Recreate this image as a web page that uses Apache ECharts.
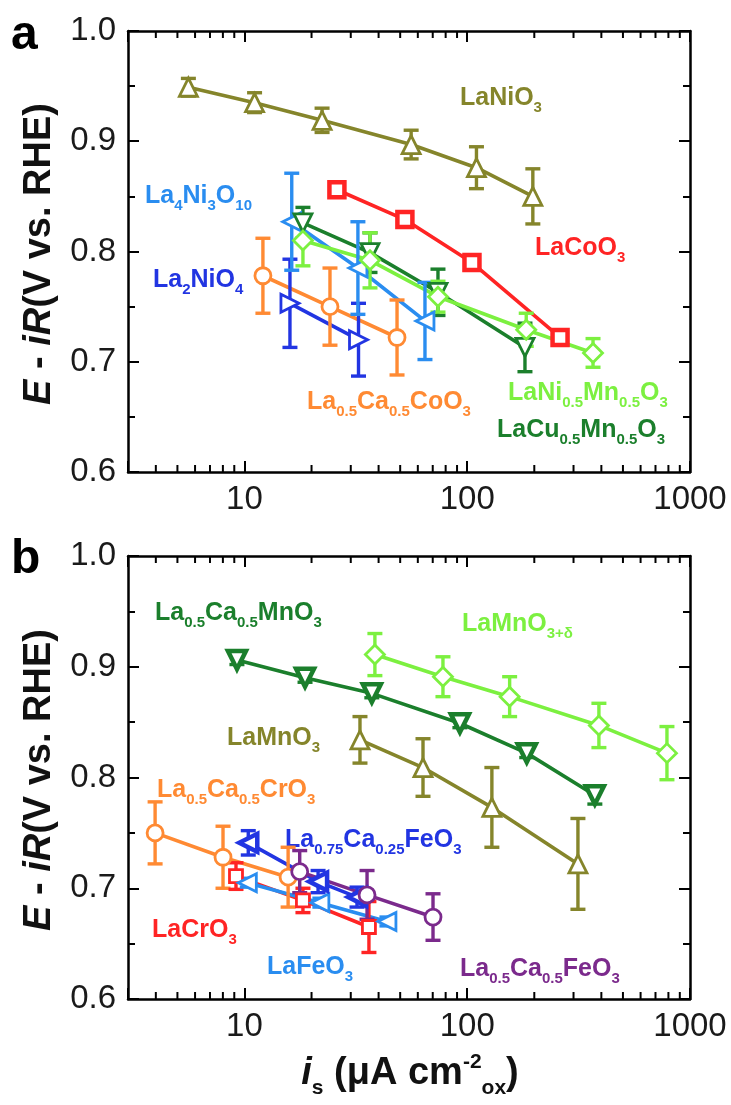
<!DOCTYPE html>
<html>
<head>
<meta charset="utf-8">
<script src="https://cdn.jsdelivr.net/npm/echarts@6/dist/echarts.min.js"></script>
<style>
html,body{margin:0;padding:0;background:#fff;}
#chart{width:731px;height:1105px;}
</style>
</head>
<body>
<div id="chart"></div>
<script>
// ---------------- DATA ----------------
// tick labels
const xTickValues = [10, 100, 1000];
const xTickLabels = ['10', '100', '1000'];
const xMinorTicks = [4, 5, 6, 7, 8, 9, 20, 30, 40, 50, 60, 70, 80, 90, 200, 300, 400, 500, 600, 700, 800, 900];
const yTickLabels = ['0.6', '0.7', '0.8', '0.9', '1.0'];

// Panel a
const a_LaNiO3_x = [5.6, 11.1, 22.3, 56, 110, 197];
const a_LaNiO3_y = [0.949, 0.935, 0.919, 0.897, 0.876, 0.850];
const a_LaNiO3_e = [0.008, 0.009, 0.011, 0.013, 0.019, 0.025];

const a_LaCoO3_x = [26, 52.5, 105, 261];
const a_LaCoO3_y = [0.856, 0.829, 0.790, 0.722];
const a_LaCoO3_e = [0.003, 0.003, 0.003, 0.004];

const a_La4Ni3O10_x = [16.3, 32.3, 64.6];
const a_La4Ni3O10_y = [0.827, 0.785, 0.737];
const a_La4Ni3O10_e = [0.044, 0.042, 0.035];

const a_La2NiO4_x = [16.0, 32.5];
const a_La2NiO4_y = [0.753, 0.720];
const a_La2NiO4_e = [0.040, 0.033];

const a_LaCaCoO3_x = [12.1, 24.2, 48.4];
const a_LaCaCoO3_y = [0.778, 0.750, 0.722];
const a_LaCaCoO3_e = [0.034, 0.035, 0.034];

const a_LaCuMnO3_x = [18.3, 36.6, 73.9, 181.6];
const a_LaCuMnO3_y = [0.826, 0.799, 0.763, 0.713];
const a_LaCuMnO3_e = [0.014, 0.018, 0.021, 0.022];

const a_LaNiMnO3_x = [18.3, 36.6, 73.9, 184, 367];
const a_LaNiMnO3_y = [0.810, 0.792, 0.759, 0.729, 0.708];
const a_LaNiMnO3_e = [0.023, 0.025, 0.014, 0.015, 0.013];

// Panel b
const b_LaCaMnO3_x = [9.25, 18.7, 37.3, 92.7, 185, 374];
const b_LaCaMnO3_y = [0.906, 0.890, 0.876, 0.849, 0.822, 0.784];
const b_LaCaMnO3_e = [0.004, 0.004, 0.004, 0.004, 0.004, 0.008];

const b_LaMnO3d_x = [38.5, 77.8, 155, 390, 788];
const b_LaMnO3d_y = [0.911, 0.891, 0.873, 0.847, 0.822];
const b_LaMnO3d_e = [0.019, 0.018, 0.018, 0.020, 0.024];

const b_LaMnO3_x = [33.0, 63.3, 129, 314];
const b_LaMnO3_y = [0.834, 0.809, 0.773, 0.722];
const b_LaMnO3_e = [0.021, 0.026, 0.036, 0.041];

const b_LaCaCrO3_x = [3.97, 8.01, 15.7];
const b_LaCaCrO3_y = [0.750, 0.728, 0.710];
const b_LaCaCrO3_e = [0.028, 0.028, 0.027];

const b_LaCrO3_x = [9.16, 18.3, 36.2];
const b_LaCrO3_y = [0.711, 0.689, 0.665];
const b_LaCrO3_e = [0.012, 0.011, 0.023];

const b_LaFeO3_x = [10.3, 21.8, 43.6];
const b_LaFeO3_y = [0.705, 0.687, 0.670];
const b_LaFeO3_e = [0.004, 0.004, 0.004];

const b_La75FeO3_x = [10.4, 21.4, 32.0];
const b_La75FeO3_y = [0.741, 0.706, 0.692];
const b_La75FeO3_e = [0.011, 0.010, 0.009];

const b_La5FeO3_x = [17.7, 35.5, 70.2];
const b_La5FeO3_y = [0.715, 0.694, 0.674];
const b_La5FeO3_e = [0.019, 0.022, 0.021];

// ---------------- STYLE ----------------
const FONT = '"Liberation Sans", Arial, Helvetica, sans-serif';
const C = {
  olive: '#85852B', red: '#FF2424', lgreen: '#7CF040', dgreen: '#1B7F2C',
  lblue: '#2A8DF0', dblue: '#2235E2', orange: '#FF8A33', purple: '#7B2A8C'
};

const seriesDefs = [
  // panel, x, y, e, color, symbol, rotate, size, border
  [0, a_LaNiO3_x, a_LaNiO3_y, a_LaNiO3_e, C.olive, 'triangle', 0, 18, 2.8],
  [0, a_LaCoO3_x, a_LaCoO3_y, a_LaCoO3_e, C.red, 'rect', 0, 15, 4.5],
  [0, a_LaCaCoO3_x, a_LaCaCoO3_y, a_LaCaCoO3_e, C.orange, 'circle', 0, 16, 2.8],
  [0, a_La2NiO4_x, a_La2NiO4_y, a_La2NiO4_e, C.dblue, 'triangle', -90, 18, 2.8],
  [0, a_La4Ni3O10_x, a_La4Ni3O10_y, a_La4Ni3O10_e, C.lblue, 'triangle', 90, 18, 2.8],
  [0, a_LaCuMnO3_x, a_LaCuMnO3_y, a_LaCuMnO3_e, C.dgreen, 'triangle', 180, 18, 2.8],
  [0, a_LaNiMnO3_x, a_LaNiMnO3_y, a_LaNiMnO3_e, C.lgreen, 'diamond', 0, 19, 2.8],
  [1, b_LaMnO3_x, b_LaMnO3_y, b_LaMnO3_e, C.olive, 'triangle', 0, 18, 2.8],
  [1, b_LaMnO3d_x, b_LaMnO3d_y, b_LaMnO3d_e, C.lgreen, 'diamond', 0, 19, 2.8],
  [1, b_LaCaMnO3_x, b_LaCaMnO3_y, b_LaCaMnO3_e, C.dgreen, 'triangle', 180, 18, 4.5],
  [1, b_LaCaCrO3_x, b_LaCaCrO3_y, b_LaCaCrO3_e, C.orange, 'circle', 0, 16, 2.8],
  [1, b_LaCrO3_x, b_LaCrO3_y, b_LaCrO3_e, C.red, 'rect', 0, 13, 2.8],
  [1, b_LaFeO3_x, b_LaFeO3_y, b_LaFeO3_e, C.lblue, 'triangle', 90, 18, 2.8],
  [1, b_La75FeO3_x, b_La75FeO3_y, b_La75FeO3_e, C.dblue, 'triangle', 90, 18, 4.5],
  [1, b_La5FeO3_x, b_La5FeO3_y, b_La5FeO3_e, C.purple, 'circle', 0, 16, 2.8]
];

// ---------------- AXES ----------------
const grids = [
  { left: 128, top: 31, width: 562, height: 441 },
  { left: 128, top: 556, width: 562, height: 443 }
];
const axisLine = { show: true, onZero: false, lineStyle: { color: '#000', width: 2.5 } };
function xLabel(v) {
  for (let i = 0; i < xTickValues.length; i++) {
    if (Math.abs(Math.log10(v) - Math.log10(xTickValues[i])) < 1e-6) return xTickLabels[i];
  }
  return '';
}
function yLabel(v) {
  const i = Math.round((v - 0.6) / 0.1);
  return (Math.abs(v - (0.6 + i * 0.1)) < 1e-6 && yTickLabels[i]) ? yTickLabels[i] : '';
}
const xAxes = [], yAxes = [];
[0, 1].forEach(p => {
  ['bottom', 'top'].forEach(pos => {
    xAxes.push({
      type: 'log', logBase: 10, gridIndex: p, min: 3, max: 1000, position: pos,
      axisLine: axisLine,
      axisTick: { show: true, inside: true, length: 11, lineStyle: { color: '#000', width: 2 } },
      axisLabel: { show: pos === 'bottom', formatter: xLabel, fontSize: 33, color: '#1a1a1a', margin: 11, fontFamily: FONT },
      splitLine: { show: false }, minorTick: { show: false }
    });
  });
  ['left', 'right'].forEach(pos => {
    yAxes.push({
      type: 'value', gridIndex: p, min: 0.6, max: 1.0, interval: 0.1, position: pos,
      axisLine: axisLine,
      axisTick: { show: true, inside: true, length: 11, lineStyle: { color: '#000', width: 2 } },
      minorTick: { show: true, splitNumber: 2, length: 7, lineStyle: { color: '#000', width: 2 } },
      axisLabel: { show: pos === 'left', formatter: yLabel, fontSize: 33, color: '#1a1a1a', margin: 12, fontFamily: FONT },
      splitLine: { show: false }, minorSplitLine: { show: false }
    });
  });
});

// ---------------- SERIES ----------------
const series = [];
[0, 1].forEach(p => {
  // log-axis minor ticks (bottom and top edges)
  series.push({
    type: 'custom', xAxisIndex: p * 2, yAxisIndex: p * 2, z: 10, silent: true,
    data: xMinorTicks.map(v => [v, 0.6]),
    encode: { x: 0, y: 1 },
    renderItem: function (params, api) {
      const v = api.value(0);
      const b = api.coord([v, 0.6]);
      const t = api.coord([v, 1.0]);
      const st = { stroke: '#000', lineWidth: 2 };
      return {
        type: 'group', children: [
          { type: 'line', shape: { x1: b[0], y1: b[1], x2: b[0], y2: b[1] - 7 }, style: st },
          { type: 'line', shape: { x1: t[0], y1: t[1], x2: t[0], y2: t[1] + 7 }, style: st }
        ]
      };
    }
  });
});

seriesDefs.forEach(d => {
  const [p, xs, ys, es, color, sym, rot, size, bw] = d;
  const xi = p * 2, yi = p * 2;
  const pts = xs.map((v, i) => [v, ys[i]]);
  series.push({
    type: 'line', xAxisIndex: xi, yAxisIndex: yi, data: pts, showSymbol: false, symbol: 'none',
    lineStyle: { color: color, width: 3.6 }, z: 2, silent: true, animation: false
  });
  series.push({
    type: 'custom', xAxisIndex: xi, yAxisIndex: yi, z: 3, silent: true,
    data: xs.map((v, i) => [v, ys[i], es[i]]),
    encode: { x: 0, y: 1 },
    renderItem: function (params, api) {
      const x = api.value(0), y = api.value(1), e = api.value(2);
      const lo = api.coord([x, y - e]);
      const hi = api.coord([x, y + e]);
      const cw = 7.5;
      const st = { stroke: color, lineWidth: 3.4 };
      return {
        type: 'group', children: [
          { type: 'line', shape: { x1: lo[0], y1: lo[1], x2: hi[0], y2: hi[1] }, style: st },
          { type: 'line', shape: { x1: hi[0] - cw, y1: hi[1], x2: hi[0] + cw, y2: hi[1] }, style: st },
          { type: 'line', shape: { x1: lo[0] - cw, y1: lo[1], x2: lo[0] + cw, y2: lo[1] }, style: st }
        ]
      };
    }
  });
  series.push({
    type: 'scatter', xAxisIndex: xi, yAxisIndex: yi, data: pts, symbol: sym, symbolRotate: rot,
    symbolSize: size, z: 4, silent: true,
    itemStyle: { color: '#fff', borderColor: color, borderWidth: bw, opacity: 1 }
  });
});

// ---------------- TEXT ----------------
function lab(x, y, text, color) {
  return {
    type: 'text', left: x, top: y, silent: true,
    style: {
      text: text, fill: color, fontSize: 25, fontWeight: 'bold', fontFamily: FONT,
      rich: { s: { fill: color, fontSize: 15, fontWeight: 'bold', fontFamily: FONT, padding: [18, 0, 0, 0] } }
    }
  };
}
const graphics = [
  lab(460, 86, 'LaNiO{s|3}', C.olive),
  lab(145, 184, 'La{s|4}Ni{s|3}O{s|10}', C.lblue),
  lab(153, 268, 'La{s|2}NiO{s|4}', C.dblue),
  lab(535, 236, 'LaCoO{s|3}', C.red),
  lab(307, 390, 'La{s|0.5}Ca{s|0.5}CoO{s|3}', C.orange),
  lab(508, 381, 'LaNi{s|0.5}Mn{s|0.5}O{s|3}', C.lgreen),
  lab(497, 418, 'LaCu{s|0.5}Mn{s|0.5}O{s|3}', C.dgreen),
  lab(155, 601, 'La{s|0.5}Ca{s|0.5}MnO{s|3}', C.dgreen),
  lab(462, 612, 'LaMnO{s|3+δ}', C.lgreen),
  lab(227, 726, 'LaMnO{s|3}', C.olive),
  lab(157, 778, 'La{s|0.5}Ca{s|0.5}CrO{s|3}', C.orange),
  lab(285, 828, 'La{s|0.75}Ca{s|0.25}FeO{s|3}', C.dblue),
  lab(152, 918, 'LaCrO{s|3}', C.red),
  lab(267, 955, 'LaFeO{s|3}', C.lblue),
  lab(460, 957, 'La{s|0.5}Ca{s|0.5}FeO{s|3}', C.purple),
  // panel letters
  { type: 'text', left: 11, top: 12, style: { text: 'a', fill: '#000', fontSize: 48, fontWeight: 'bold', fontFamily: FONT } },
  { type: 'text', left: 11, top: 536, style: { text: 'b', fill: '#000', fontSize: 48, fontWeight: 'bold', fontFamily: FONT } }
];
function yTitle(cy) {
  return {
    type: 'text', x: 40, y: cy, rotation: Math.PI / 2, silent: true,
    style: {
      text: '{i|E} - {i|iR}(V vs. RHE)', fill: '#111', fontSize: 38, fontWeight: 'bold', fontFamily: FONT,
      align: 'center', verticalAlign: 'middle',
      rich: { i: { fill: '#111', fontSize: 38, fontWeight: 'bold', fontStyle: 'italic', fontFamily: FONT } }
    }
  };
}
graphics.push(yTitle(254), yTitle(780));
graphics.push({
  type: 'text', x: 410, y: 1074, silent: true,
  style: {
    text: '{i|i}{sub|s} (μA cm{sup|-2}{sub|ox})', fill: '#111', fontSize: 38, fontWeight: 'bold', fontFamily: FONT,
    align: 'center', verticalAlign: 'middle',
    rich: {
      i: { fill: '#111', fontSize: 38, fontWeight: 'bold', fontStyle: 'italic', fontFamily: FONT },
      sub: { fill: '#111', fontSize: 21, fontWeight: 'bold', fontFamily: FONT, padding: [28, 0, 0, 0] },
      sup: { fill: '#111', fontSize: 21, fontWeight: 'bold', fontFamily: FONT, padding: [0, 0, 24, 0] }
    }
  }
});

const chart = echarts.init(document.getElementById('chart'), null, { renderer: 'canvas' });
chart.setOption({
  animation: false,
  backgroundColor: '#fff',
  grid: grids,
  xAxis: xAxes,
  yAxis: yAxes,
  series: series,
  graphic: graphics
});
</script>
</body>
</html>
